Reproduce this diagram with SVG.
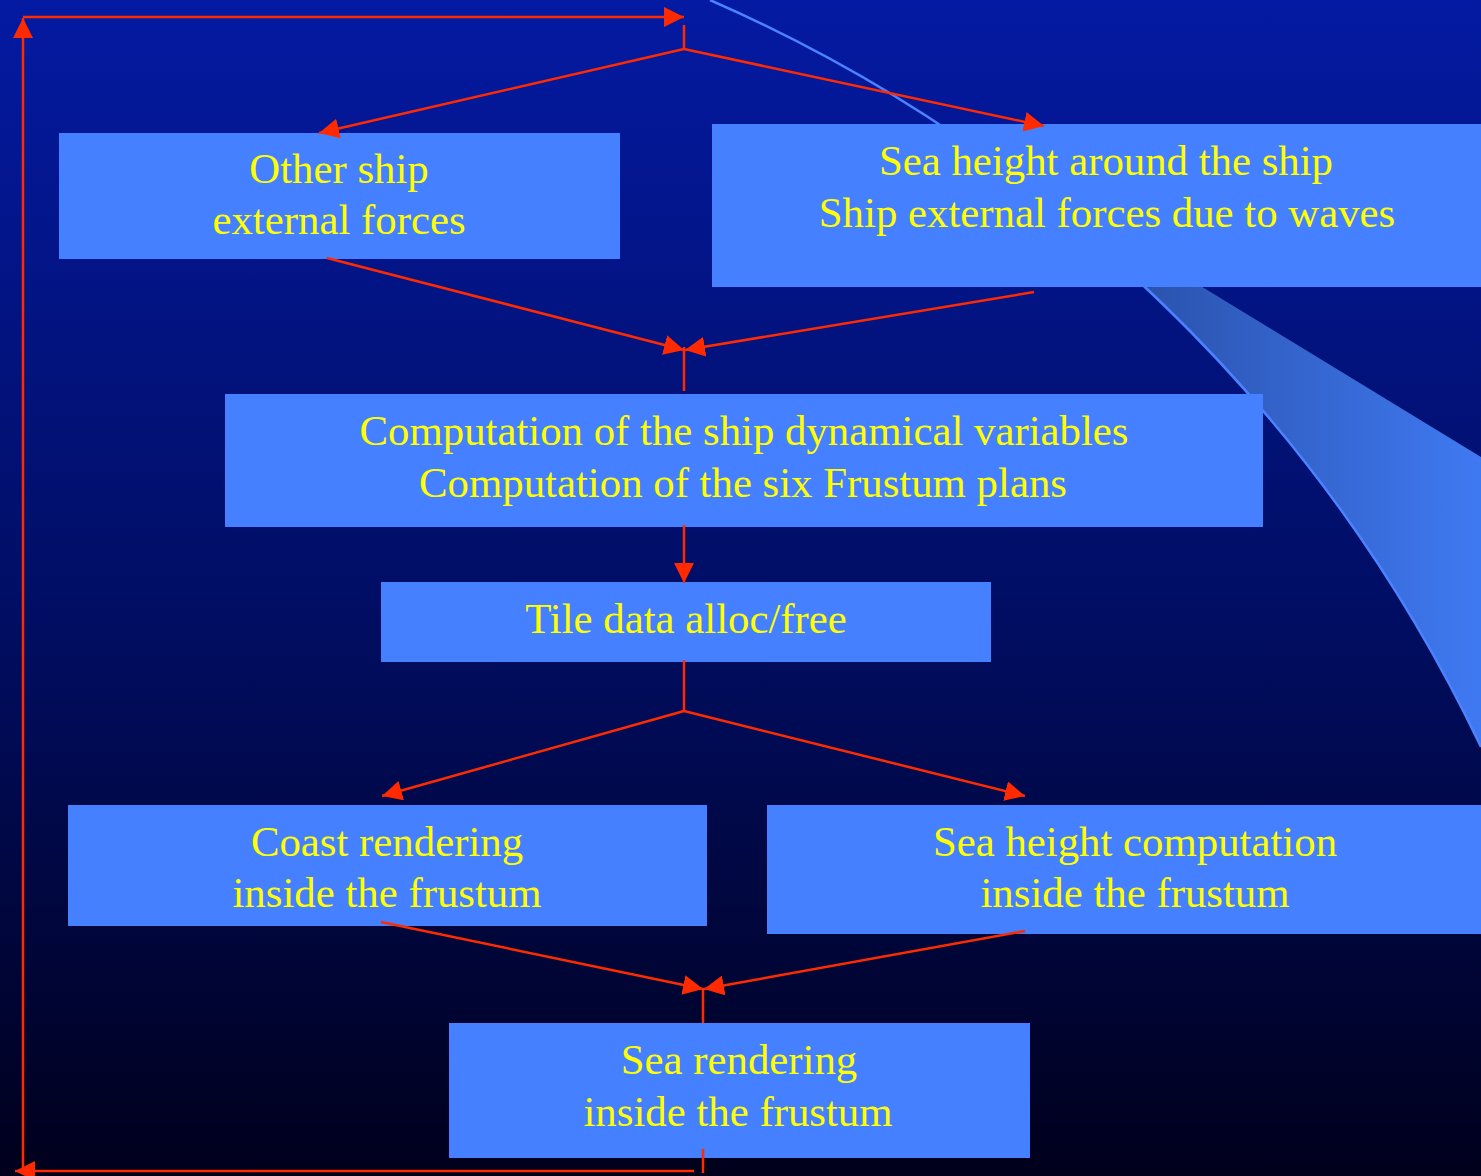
<svg xmlns="http://www.w3.org/2000/svg" width="1481" height="1176" viewBox="0 0 1481 1176">
<defs>
<linearGradient id="bg" x1="0" y1="0" x2="0" y2="1">
<stop offset="0" stop-color="#041aa2"/>
<stop offset="0.5" stop-color="#010e66"/>
<stop offset="1" stop-color="#00001c"/>
</linearGradient>
<linearGradient id="wedge" gradientUnits="userSpaceOnUse" x1="1145" y1="0" x2="1481" y2="0">
<stop offset="0" stop-color="#2b53ae"/>
<stop offset="1" stop-color="#3f79f2"/>
</linearGradient>
<marker id="ah" viewBox="0 0 20 20" refX="20" refY="10" markerWidth="20" markerHeight="20" markerUnits="userSpaceOnUse" orient="auto">
<path d="M0,0 L20,10 L0,20 Z" fill="#ff2a00"/>
</marker>
</defs>
<style>
.box{fill:#4480ff}
.t{font-family:"Liberation Serif","Times New Roman",serif;font-size:42.8px;fill:#ffff00;text-anchor:middle}
.c{stroke:#ff2a00;stroke-width:2.5;fill:none}
.ca{stroke:#ff2a00;stroke-width:2.5;fill:none;marker-end:url(#ah)}
</style>
<rect width="1481" height="1176" fill="url(#bg)"/>
<g id="decoration">
<path d="M935,124 L1481,457 L1481,747 A1537,1537 0 0 0 935,124 Z" fill="url(#wedge)"/>
<path d="M710,0 A1537,1537 0 0 1 1481,747" fill="none" stroke="#4a82ff" stroke-width="2.5"/>
</g>
<g id="node-other-forces">
<rect class="box" x="59" y="133" width="561" height="126"/>
<text class="t" x="339" y="183">Other ship</text>
<text class="t" x="339" y="234">external forces</text>
</g>
<g id="node-sea-height-ship">
<rect class="box" x="712" y="124" width="769" height="163"/>
<text class="t" x="1106" y="175">Sea height around the ship</text>
<text class="t" x="1107" y="227">Ship external forces due to waves</text>
</g>
<g id="node-computation">
<rect class="box" x="225" y="394" width="1038" height="133"/>
<text class="t" x="744" y="445">Computation of the ship dynamical variables</text>
<text class="t" x="743" y="497">Computation of the six Frustum plans</text>
</g>
<g id="node-tile">
<rect class="box" x="381" y="582" width="610" height="80"/>
<text class="t" x="686" y="633">Tile data alloc/free</text>
</g>
<g id="node-coast">
<rect class="box" x="68" y="805" width="639" height="121"/>
<text class="t" x="387" y="856">Coast rendering</text>
<text class="t" x="387" y="907">inside the frustum</text>
</g>
<g id="node-sea-height-comp">
<rect class="box" x="767" y="805" width="714" height="129"/>
<text class="t" x="1135" y="856">Sea height computation</text>
<text class="t" x="1135" y="907">inside the frustum</text>
</g>
<g id="node-sea-rendering">
<rect class="box" x="449" y="1023" width="581" height="135"/>
<text class="t" x="739" y="1074">Sea rendering</text>
<text class="t" x="738" y="1126">inside the frustum</text>
</g>
<g id="connectors">
<line class="c" x1="703" y1="1149" x2="703" y2="1173"/>
<line class="ca" x1="694" y1="1171" x2="15" y2="1171"/>
<line class="ca" x1="23" y1="1171" x2="23" y2="18"/>
<line class="ca" x1="23" y1="17" x2="684" y2="17"/>
<line class="c" x1="684" y1="25" x2="684" y2="50"/>
<line class="ca" x1="684" y1="49" x2="319" y2="133"/>
<line class="ca" x1="684" y1="49" x2="1044" y2="126"/>
<line class="ca" x1="327" y1="258" x2="684" y2="350"/>
<line class="ca" x1="1034" y1="292" x2="685" y2="350"/>
<line class="c" x1="684" y1="347" x2="684" y2="391"/>
<line class="ca" x1="684" y1="525" x2="684" y2="583"/>
<line class="c" x1="684" y1="660" x2="684" y2="711"/>
<line class="ca" x1="684" y1="711" x2="382" y2="796"/>
<line class="ca" x1="684" y1="711" x2="1025" y2="796"/>
<line class="ca" x1="381" y1="922" x2="703" y2="989"/>
<line class="ca" x1="1025" y1="931" x2="704" y2="989"/>
<line class="c" x1="703" y1="988" x2="703" y2="1023"/>
</g>
</svg>
